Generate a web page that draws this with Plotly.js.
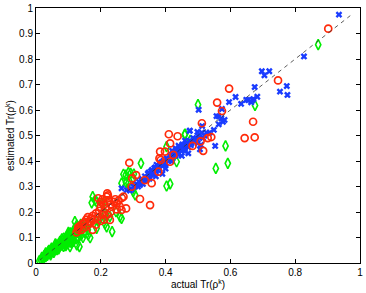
<!DOCTYPE html>
<html>
<head>
<meta charset="utf-8">
<script src="https://cdn.plot.ly/plotly-3.0.1.min.js"></script>
<style>html,body{margin:0;padding:0;background:#fff;}#chart{width:366px;height:293px;}</style>
</head>
<body>
<div id="chart"></div>
<script>
// Blue crosses
const blueX = [0.935,0.827,0.697,0.705,0.72,0.675,0.774,0.753,0.776,0.683,0.671,0.664,0.668,0.655,0.649,0.633,0.616,0.596,0.574,0.502,0.557,0.564,0.572,0.582,0.577,0.564,0.513,0.549,0.536,0.526,0.512,0.498,0.474,0.495,0.505,0.515,0.553,0.499,0.509,0.506,0.475,
 0.264,0.28,0.29,0.3,0.306,0.31,0.318,0.321,0.327,0.333,0.336,0.34,0.345,0.35,0.355,0.36,0.365,0.37,0.372,0.378,0.38,0.385,0.39,0.393,0.4,0.403,0.41,0.415,0.42,0.425,0.43,0.435,0.44,0.445,0.45,0.455,0.46,0.465,0.47,0.475,0.48,0.485,0.49,0.39,0.4,0.42,0.44,0.46,0.37,0.35,0.33,0.45,0.47,0.43,
 0.295,0.315,0.325,0.342,0.358,0.362,0.375,0.388,0.396,0.408,0.418,0.428,0.438,0.448,0.458,0.468,0.478,0.488,0.452,0.432,0.412,0.392,0.368,0.348,0.5,0.52];
const blueY = [0.974,0.81,0.752,0.736,0.752,0.69,0.694,0.672,0.659,0.652,0.643,0.63,0.639,0.639,0.64,0.624,0.651,0.631,0.604,0.601,0.576,0.575,0.567,0.561,0.554,0.544,0.537,0.522,0.511,0.511,0.511,0.514,0.518,0.489,0.491,0.491,0.459,0.469,0.463,0.446,0.519,
 0.293,0.286,0.284,0.3,0.3,0.31,0.318,0.306,0.33,0.322,0.34,0.33,0.35,0.34,0.36,0.35,0.372,0.36,0.385,0.378,0.37,0.392,0.38,0.4,0.39,0.41,0.4,0.42,0.41,0.435,0.42,0.44,0.43,0.45,0.44,0.46,0.45,0.47,0.455,0.48,0.47,0.49,0.475,0.35,0.37,0.44,0.46,0.48,0.34,0.33,0.31,0.42,0.43,0.45,
 0.29,0.3,0.325,0.325,0.365,0.345,0.365,0.395,0.385,0.405,0.4,0.425,0.425,0.455,0.44,0.465,0.462,0.482,0.465,0.44,0.41,0.39,0.375,0.355,0.5,0.5];

// Red circles
const redX = [0.902,0.747,0.596,0.559,0.574,0.67,0.644,0.675,0.512,0.508,0.53,0.541,0.483,0.516,0.41,0.437,0.414,0.383,0.398,0.381,0.385,0.414,0.424,0.288,0.309,0.297,0.336,0.357,0.378,0.295,0.321,0.352,
 0.192,0.218,0.22,0.222,0.249,0.259,0.264,0.278,0.249,0.228,0.2,0.21,0.215,0.205,0.195,0.185,0.19,0.175,0.18,0.17,0.165,0.16,0.155,0.15,0.145,0.14,0.135,0.13,0.125,0.13,0.14,0.15,0.16,0.17,0.2,0.205,0.21,0.225,0.23,0.235,0.24,0.245,0.255,0.265,0.27,0.23,0.22,0.21,0.2,0.185,0.175];
const redY = [0.919,0.716,0.684,0.629,0.596,0.554,0.49,0.493,0.548,0.477,0.49,0.494,0.459,0.44,0.505,0.497,0.469,0.437,0.437,0.41,0.404,0.397,0.424,0.393,0.345,0.332,0.325,0.313,0.358,0.299,0.251,0.227,
 0.254,0.26,0.273,0.265,0.234,0.221,0.208,0.214,0.21,0.169,0.22,0.2,0.215,0.19,0.205,0.195,0.18,0.185,0.17,0.175,0.165,0.18,0.17,0.16,0.155,0.15,0.145,0.14,0.12,0.13,0.13,0.14,0.15,0.16,0.24,0.25,0.23,0.245,0.23,0.22,0.24,0.25,0.245,0.255,0.26,0.2,0.19,0.17,0.165,0.15,0.13];

// Green diamonds
const greenX = [0.871,0.676,0.5,0.585,0.459,0.476,0.46,0.592,0.555,0.403,0.324,0.434,0.27,0.285,0.3,0.277,0.292,0.302,0.264,0.278,0.285,0.3,0.306,0.403,0.414,0.175,0.187,0.203,0.172,0.182,0.247,0.235,0.213,0.218,0.167,0.161,0.187,0.194,0.198,0.126,0.136,0.12,0.126,0.105,0.213,0.228,0.259,0.264,0.211,0.134,
 0.01,0.015,0.02,0.022,0.025,0.03,0.032,0.035,0.04,0.042,0.045,0.05,0.05,0.055,0.058,0.06,0.065,0.068,0.07,0.072,0.075,0.078,0.08,0.082,0.085,0.088,0.09,0.092,0.095,0.098,0.1,0.1,0.105,0.108,0.11,0.112,0.115,0.118,0.12,0.122,0.125,0.13,0.132,0.135,0.14,0.145,0.15,0.155,0.06,0.08,0.1,0.12,0.11,0.09,0.07,0.13,0.14,0.15,0.16,0.145,0.03,0.04,0.115,0.125,
 0.018,0.028,0.038,0.048,0.062,0.074,0.086,0.096,0.106,0.116,0.128,0.138,0.152,0.162,0.045,0.055,0.065,0.085,0.095,0.105,0.135,0.102,0.112,0.092];
const greenY = [0.856,0.618,0.621,0.459,0.503,0.481,0.505,0.391,0.371,0.456,0.391,0.397,0.348,0.354,0.332,0.345,0.352,0.349,0.313,0.316,0.313,0.28,0.267,0.302,0.31,0.26,0.24,0.234,0.236,0.247,0.201,0.123,0.153,0.142,0.099,0.11,0.136,0.166,0.175,0.149,0.14,0.162,0.071,0.064,0.195,0.182,0.182,0.175,0.24,0.064,
 0.008,0.012,0.02,0.015,0.028,0.025,0.035,0.03,0.038,0.045,0.04,0.048,0.055,0.05,0.06,0.052,0.068,0.06,0.075,0.065,0.07,0.08,0.07,0.088,0.078,0.09,0.082,0.095,0.085,0.1,0.09,0.105,0.095,0.11,0.1,0.115,0.105,0.12,0.11,0.125,0.13,0.12,0.135,0.125,0.14,0.135,0.15,0.145,0.075,0.095,0.12,0.135,0.08,0.07,0.055,0.1,0.11,0.12,0.13,0.1,0.04,0.05,0.085,0.095,
 0.022,0.032,0.046,0.058,0.07,0.085,0.098,0.108,0.118,0.128,0.142,0.152,0.142,0.155,0.032,0.042,0.052,0.065,0.075,0.082,0.108,0.115,0.092,0.068];

// Reference diagonal
const diagX = [0.01, 0.97];
const diagY = [0.01, 0.97];

const xTicks = [0,0.2,0.4,0.6,0.8,1];
const xTickText = ['0','0.2','0.4','0.6','0.8','1'];
const yTicks = [0,0.1,0.2,0.3,0.4,0.5,0.6,0.7,0.8,0.9,1];
const yTickText = ['0','0.1','0.2','0.3','0.4','0.5','0.6','0.7','0.8','0.9','1'];

const traces = [
  {x: greenX, y: greenY, mode:'markers', type:'scatter',
   marker:{symbol:'diamond-tall-open', size:7.5, color:'#00ee00', line:{width:1.6, color:'#00ee00'}}},
  {x: blueX, y: blueY, mode:'markers', type:'scatter',
   marker:{symbol:'x', size:6, color:'#1a3cff', line:{width:0}}},
  {x: redX, y: redY, mode:'markers', type:'scatter',
   marker:{symbol:'circle-open', size:7, color:'#ff2a0a', line:{width:1.7, color:'#ff2a0a'}}},
  {x: diagX, y: diagY, mode:'lines', type:'scatter',
   line:{color:'#333', width:0.8, dash:'4px,4px'}}
];

const axisCommon = {
  showgrid:false, zeroline:false, showline:true, mirror:'ticks',
  linecolor:'#000', linewidth:1, ticks:'inside', ticklen:4, tickcolor:'#000',
  tickfont:{family:'Liberation Sans, Arial, sans-serif', size:10, color:'#000'},
  tickmode:'array'
};

const layout = {
  width:366, height:293,
  margin:{l:36, r:6, t:8, b:30},
  paper_bgcolor:'#fff', plot_bgcolor:'#fff',
  showlegend:false,
  xaxis: Object.assign({}, axisCommon, {range:[0,1], tickvals:xTicks, ticktext:xTickText,
    title:{text:'actual Tr(ρ<sup>k</sup>)', font:{family:'Liberation Sans, Arial, sans-serif', size:10, color:'#000'}, standoff:2}}),
  yaxis: Object.assign({}, axisCommon, {range:[0,1], tickvals:yTicks, ticktext:yTickText,
    title:{text:'estimated Tr(ρ<sup>k</sup>)', font:{family:'Liberation Sans, Arial, sans-serif', size:10, color:'#000'}, standoff:2}})
};

Plotly.newPlot('chart', traces, layout, {staticPlot:true, displayModeBar:false});
</script>
</body>
</html>
